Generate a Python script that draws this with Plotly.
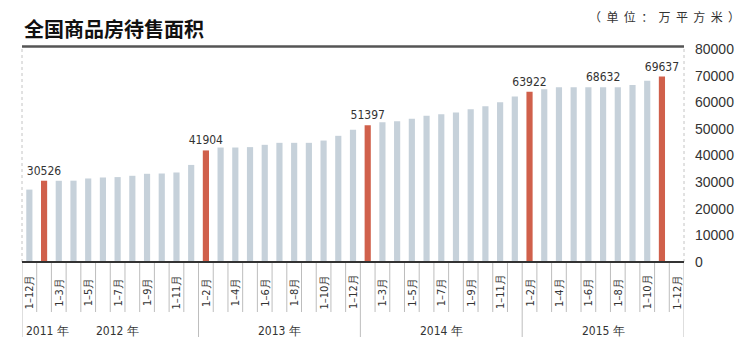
import plotly.graph_objects as go

# ---- data ----
years = [2011] + [2012] * 11 + [2013] * 11 + [2014] * 11 + [2015] * 11
months = (["1–12月"]
          + ["1–2月", "1–3月", "1–4月", "1–5月", "1–6月", "1–7月", "1–8月", "1–9月", "1–10月", "1–11月", "1–12月"]
          + ["1–2月", "1–3月", "1–4月", "1–5月", "1–6月", "1–7月", "1–8月", "1–9月", "1–10月", "1–11月", "1–12月"]
          + ["1–2月", "1–3月", "1–4月", "1–5月", "1–6月", "1–7月", "1–8月", "1–9月", "1–10月", "1–11月", "1–12月"]
          + ["1–2月", "1–3月", "1–4月", "1–5月", "1–6月", "1–7月", "1–8月", "1–9月", "1–10月", "1–11月", "1–12月"])
values = [27194,
          30526, 30500, 30550, 31370, 31740, 31890, 32380, 33130, 33240, 33620, 36460,
          41904, 43000, 43000, 43150, 44010, 44760, 44760, 44760, 45620, 47390, 49700,
          51397, 52530, 52900, 53770, 54890, 55530, 56130, 57400, 58530, 60030, 62169,
          63922, 64850, 65600, 65600, 65600, 65600, 65600, 66490, 68080, 69637, None]
highlight_idx = [1, 12, 23, 34, 43]
label_idx = [1, 12, 23, 34, 39, 43]
label_txt = ["30526", "41904", "51397", "63922", "68632", "69637"]
y_ticks = [0, 10000, 20000, 30000, 40000, 50000, 60000, 70000, 80000]
title_text = "全国商品房待售面积"
unit_text = "（单位：万平方米）"

GRAY = "#c6d1da"
RED = "#d0604b"
TXT = "#333333"
COND = "DejaVu Sans Condensed, Liberation Sans Narrow, sans-serif"
CJK = "Noto Sans CJK SC, sans-serif"

n = len(values)
xs = list(range(n))
colors = [RED if i in highlight_idx else GRAY for i in xs]
texts = [""] * n
for i, t in zip(label_idx, label_txt):
    texts[i] = t

fig = go.Figure()
fig.add_trace(go.Bar(
    x=xs, y=values, marker=dict(color=colors, line=dict(width=0)),
    text=texts, textposition="outside", constraintext="none", cliponaxis=False,
    textfont=dict(family=COND, size=12, color=TXT), hoverinfo="skip",
))

PLOT_H = 213
shapes = []
# top dark rule
shapes.append(dict(type="line", xref="paper", yref="paper", x0=0, x1=1,
                   y0=1 + 2.5 / PLOT_H, y1=1 + 2.5 / PLOT_H,
                   line=dict(color="#555555", width=2.5)))
# dotted side lines
for xp in (0, 1):
    shapes.append(dict(type="line", xref="paper", yref="paper", x0=xp, x1=xp, y0=0, y1=1,
                       line=dict(color="#c4c4c4", width=1, dash="dot")))
# tick lines at category boundaries
for b in range(n + 1):
    is_long = (b == 0 or b == n or (years[b] != years[b - 1] and years[b - 1] != 2011))
    depth = 75 if is_long else 50
    shapes.append(dict(type="line", xref="x", yref="paper", x0=b - 0.5, x1=b - 0.5,
                       y0=0, y1=-depth / PLOT_H, line=dict(color="#bdbdbd", width=1)))
# bottom axis
shapes.append(dict(type="line", xref="paper", yref="paper", x0=0, x1=1, y0=0, y1=0,
                   line=dict(color="#333333", width=2)))

annotations = []
for i in range(0, n, 2):
    annotations.append(dict(x=i, y=-30 / PLOT_H, xref="x", yref="paper", text=months[i],
                            textangle=-90, showarrow=False, xanchor="center", yanchor="middle",
                            font=dict(family=COND, size=11, color=TXT)))
# year labels
for yr in sorted(set(years)):
    idx = [i for i, v in enumerate(years) if v == yr]
    if len(idx) == 1:
        annotations.append(dict(x=idx[0] - 0.5, y=0, xref="x", yref="paper", text=f"{yr} 年",
                                showarrow=False, xanchor="left", yanchor="middle", xshift=2,
                                yshift=-69, font=dict(family=COND, size=12, color=TXT)))
    else:
        annotations.append(dict(x=(idx[0] + idx[-1]) / 2, y=0, xref="x", yref="paper",
                                text=f"{yr} 年", showarrow=False, xanchor="center",
                                yanchor="middle", yshift=-69,
                                font=dict(family=COND, size=12, color=TXT)))
annotations.append(dict(x=0, y=1, xref="paper", yref="paper", text=f"<b>{title_text}</b>",
                        showarrow=False, xanchor="left", yanchor="middle", yshift=21,
                        font=dict(family=CJK, size=20, color="#111111")))
annotations.append(dict(x=1, y=1, xref="paper", yref="paper", text="  ".join(unit_text),
                        showarrow=False, xanchor="right", yanchor="middle", xshift=58,
                        yshift=33, font=dict(family=CJK, size=12, color=TXT)))

fig.update_layout(
    width=750, height=363,
    margin=dict(l=22, r=66, t=49, b=101),
    paper_bgcolor="white", plot_bgcolor="white",
    bargap=0.58, showlegend=False,
    shapes=shapes, annotations=annotations,
    xaxis=dict(range=[-0.5, n - 0.5], showticklabels=False, showgrid=False,
               zeroline=False, showline=False, ticks="", fixedrange=True),
    yaxis=dict(side="right", range=[0, 80000], tickvals=y_ticks,
               ticktext=[str(v) for v in y_ticks], showgrid=False, zeroline=False,
               showline=False, ticks="", ticklabelstandoff=10, fixedrange=True,
               tickfont=dict(family="Liberation Sans, Arial, sans-serif", size=14, color=TXT)),
)

fig.write_html("out.html", config={"displayModeBar": False, "staticPlot": True},
               post_script="document.body.style.margin='0';document.body.style.overflow='hidden';")
